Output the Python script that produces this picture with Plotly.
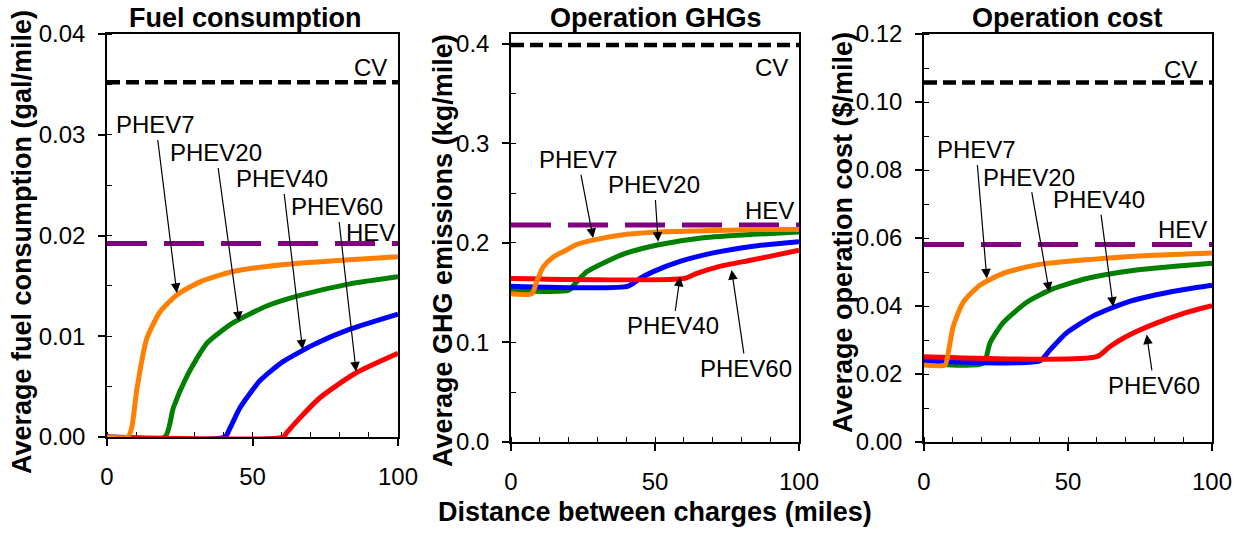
import plotly.graph_objects as go

# ---------------- data ----------------
# Panel 1: fuel consumption (gal/mile)
fuel_cv = 0.0352
fuel_hev = 0.0192
fuel_phev7_x = [0, 7.2, 8.5, 10.2, 13.6, 18.2, 24, 32, 43, 60, 78, 100]
fuel_phev7_y = [0, 0, 0.0009, 0.0046, 0.0097, 0.0124, 0.0141, 0.0154, 0.0164, 0.0171, 0.0175, 0.0179]
fuel_phev20_x = [0, 19.9, 22.8, 27.4, 34.3, 43.4, 54.9, 66.3, 83.5, 100]
fuel_phev20_y = [0, 0, 0.0029, 0.0060, 0.0093, 0.01135, 0.0130, 0.01405, 0.0152, 0.0159]
fuel_phev40_x = [0, 40.5, 42.3, 45.7, 52.6, 60.6, 72, 83.5, 100]
fuel_phev40_y = [0, 0, 0.0009, 0.0029, 0.0056, 0.0075, 0.0093, 0.0107, 0.0122]
fuel_phev60_x = [0, 60.6, 61.7, 66.3, 73.2, 85.2, 100]
fuel_phev60_y = [0, 0, 0.0004, 0.0019, 0.0039, 0.0063, 0.0083]

# Panel 2: operation GHGs (kg/mile)
ghg_cv = 0.399
ghg_hev = 0.218
ghg_phev7_x = [0, 7.2, 8.9, 11.2, 14.7, 19.3, 22.8, 29.8, 40.2, 51.7, 66.8, 84.1, 100]
ghg_phev7_y = [0.149, 0.149, 0.161, 0.176, 0.186, 0.193, 0.1985, 0.2036, 0.2087, 0.2111, 0.2122, 0.2135, 0.2135]
ghg_phev20_x = [0, 20, 22.8, 26.3, 33.2, 40.2, 51.7, 66.8, 84.1, 100]
ghg_phev20_y = [0.1525, 0.1525, 0.161, 0.171, 0.1814, 0.190, 0.1985, 0.2053, 0.2087, 0.211]
ghg_phev40_x = [0, 40.7, 44.8, 49.4, 58.7, 70.2, 84.1, 100]
ghg_phev40_y = [0.1566, 0.1566, 0.1644, 0.1712, 0.1814, 0.190, 0.1968, 0.2012]
ghg_phev60_x = [0, 60.4, 64.5, 72.2, 84.1, 100]
ghg_phev60_y = [0.1644, 0.1644, 0.1695, 0.1763, 0.1831, 0.1927]

# Panel 3: operation cost ($/mile)
cost_cv = 0.1057
cost_hev = 0.0581
cost_phev7_x = [0, 7.3, 8.4, 10.2, 13.6, 19.4, 27.5, 39.1, 56.5, 79.6, 100]
cost_phev7_y = [0.02265, 0.02265, 0.0261, 0.0341, 0.0411, 0.0461, 0.0496, 0.0521, 0.0536, 0.0549, 0.0556]
cost_phev20_x = [0, 20.6, 22.9, 27.5, 35.7, 44.9, 56.5, 73.8, 100]
cost_phev20_y = [0.02315, 0.02315, 0.0291, 0.0351, 0.0411, 0.0451, 0.0481, 0.0506, 0.0526]
cost_phev40_x = [0, 40.3, 43.75, 49.5, 58.8, 70.4, 85.4, 100]
cost_phev40_y = [0.0239, 0.0239, 0.0271, 0.0321, 0.0371, 0.0411, 0.0441, 0.0461]
cost_phev60_x = [0, 60, 64.6, 70.4, 79.6, 91.2, 100]
cost_phev60_y = [0.0251, 0.0251, 0.0281, 0.0311, 0.0346, 0.0381, 0.0401]

x_range = [0, 100]
panel_titles = ["Fuel consumption", "Operation GHGs", "Operation cost"]
y_titles = ["Average fuel consumption (gal/mile)",
            "Average GHG emissions (kg/mile)",
            "Average operation cost ($/mile)"]
x_title = "Distance between charges (miles)"

# ---------------- styling ----------------
FONT = "Liberation Sans, Arial, sans-serif"
COL = {"PHEV7": "#FF7F00", "PHEV20": "#008000", "PHEV40": "#0000FF", "PHEV60": "#FF0000"}
W, H = 1245, 533

fig = go.Figure()

panels = [
    dict(xa="x", ya="y", cv=fuel_cv, hev=fuel_hev,
         series={"PHEV7": (fuel_phev7_x, fuel_phev7_y), "PHEV20": (fuel_phev20_x, fuel_phev20_y),
                 "PHEV40": (fuel_phev40_x, fuel_phev40_y), "PHEV60": (fuel_phev60_x, fuel_phev60_y)}),
    dict(xa="x2", ya="y2", cv=ghg_cv, hev=ghg_hev,
         series={"PHEV7": (ghg_phev7_x, ghg_phev7_y), "PHEV20": (ghg_phev20_x, ghg_phev20_y),
                 "PHEV40": (ghg_phev40_x, ghg_phev40_y), "PHEV60": (ghg_phev60_x, ghg_phev60_y)}),
    dict(xa="x3", ya="y3", cv=cost_cv, hev=cost_hev,
         series={"PHEV7": (cost_phev7_x, cost_phev7_y), "PHEV20": (cost_phev20_x, cost_phev20_y),
                 "PHEV40": (cost_phev40_x, cost_phev40_y), "PHEV60": (cost_phev60_x, cost_phev60_y)}),
]

for p in panels:
    fig.add_trace(go.Scatter(x=x_range, y=[p["cv"], p["cv"]], xaxis=p["xa"], yaxis=p["ya"],
                             mode="lines", line=dict(color="black", width=4.5, dash="13px,6px"),
                             showlegend=False, hoverinfo="skip", cliponaxis=False))
    fig.add_trace(go.Scatter(x=x_range, y=[p["hev"], p["hev"]], xaxis=p["xa"], yaxis=p["ya"],
                             mode="lines", line=dict(color="#800080", width=5, dash="40px,17px"),
                             showlegend=False, hoverinfo="skip", cliponaxis=False))
    for name in ["PHEV20", "PHEV40", "PHEV60", "PHEV7"]:
        xs, ys = p["series"][name]
        fig.add_trace(go.Scatter(x=xs, y=ys, xaxis=p["xa"], yaxis=p["ya"], mode="lines",
                                 line=dict(color=COL[name], width=5, shape="spline", smoothing=0.6),
                                 showlegend=False, hoverinfo="skip", cliponaxis=False))

# axes geometry (pixels)
x_px = [(107, 398), (511, 799), (924, 1212)]
y_px = [(34, 437), (34, 442), (34, 442)]
y_ranges = [[0, 0.04], [0, 0.41], [0, 0.12]]
y_dticks = [0.01, 0.1, 0.02]
y_minor = [0.005, 0.05, 0.01]
y_fmt = [".2f", ".1f", ".2f"]

common = dict(showline=True, linecolor="black", linewidth=1.5, mirror=True,
              ticks="outside", ticklen=7, tickwidth=1.5, tickcolor="black",
              showgrid=False, zeroline=False, layer="below traces", automargin=False,
              tickfont=dict(family=FONT, size=24, color="black"))

for i in range(3):
    sfx = "" if i == 0 else str(i + 1)
    x0, x1 = x_px[i]
    yt, yb = y_px[i]
    fig.layout["xaxis" + sfx] = dict(
        common, domain=[x0 / W, x1 / W], range=x_range, dtick=50, tick0=0,
        anchor="y" + sfx, ticklabelstandoff=10,
        minor=dict(dtick=10, ticks="inside", ticklen=5, tickwidth=1, tickcolor="black"))
    fig.layout["yaxis" + sfx] = dict(
        common, domain=[1 - yb / H, 1 - yt / H], range=y_ranges[i], dtick=y_dticks[i], tick0=0,
        tickformat=y_fmt[i], anchor="x" + sfx, ticklabelstandoff=8,
        minor=dict(dtick=y_minor[i], ticks="inside", ticklen=5, tickwidth=1, tickcolor="black"))

annotations = []
# Panel titles, y titles, x title (paper positions in pixels)
title_pos = [(245, 18), (656, 18), (1067, 18)]
ytitle_pos = [(22, 242), (443, 250), (843, 233)]
for i in range(3):
    annotations.append(dict(text=panel_titles[i], x=title_pos[i][0] / W, y=1 - title_pos[i][1] / H,
                            xref="paper", yref="paper", showarrow=False, xanchor="center", yanchor="middle",
                            font=dict(family=FONT, size=27, color="black", weight="bold")))
    annotations.append(dict(text=y_titles[i], x=ytitle_pos[i][0] / W, y=1 - ytitle_pos[i][1] / H,
                            xref="paper", yref="paper", showarrow=False, textangle=-90,
                            xanchor="center", yanchor="middle",
                            font=dict(family=FONT, size=27, color="black", weight="bold")))
annotations.append(dict(text=x_title, x=655 / W, y=1 - 512 / H, xref="paper", yref="paper",
                        showarrow=False, xanchor="center", yanchor="middle",
                        font=dict(family=FONT, size=27, color="black", weight="bold")))

# labels: (text, text_x, text_y, head_x, head_y) in data coords; head None = no arrow
labels = [
    [("PHEV7", 16.8, 0.03097, 24.0, 0.0143), ("PHEV20", 37.5, 0.02819, 45.4, 0.0115),
     ("PHEV40", 60.3, 0.02561, 67.2, 0.0087), ("PHEV60", 79.2, 0.02283, 85.6, 0.0065),
     ("HEV", 90.7, 0.02025, None, None), ("CV", 90.4, 0.03663, None, None)],
    [("PHEV7", 23.3, 0.2834, 28.5, 0.205), ("PHEV20", 49.8, 0.2583, 51.1, 0.2013),
     ("PHEV40", 56.3, 0.1166, 58.7, 0.1661), ("PHEV60", 81.6, 0.074, 76.6, 0.1729),
     ("HEV", 89.9, 0.2322, None, None), ("CV", 90.3, 0.3759, None, None)],
    [("PHEV7", 18.1, 0.0859, 21.8, 0.0481), ("PHEV20", 36.5, 0.0779, 43.5, 0.0442),
     ("PHEV40", 60.8, 0.0712, 65.7, 0.0398), ("PHEV60", 79.9, 0.01665, 77.3, 0.0316),
     ("HEV", 89.9, 0.0624, None, None), ("CV", 88.9, 0.1095, None, None)],
]
for i, p in enumerate(panels):
    for (txt, tx, ty, hx, hy) in labels[i]:
        f = dict(family=FONT, size=24, color="black")
        if hx is None:
            annotations.append(dict(text=txt, x=tx, y=ty, xref=p["xa"], yref=p["ya"],
                                    showarrow=False, xanchor="center", yanchor="middle", font=f))
        else:
            annotations.append(dict(text=txt, x=hx, y=hy, xref=p["xa"], yref=p["ya"],
                                    ax=tx, ay=ty, axref=p["xa"], ayref=p["ya"],
                                    showarrow=True, arrowhead=2, arrowsize=1.6, arrowwidth=1.2,
                                    arrowcolor="black", font=f))

fig.update_layout(template="none", width=W, height=H,
                  margin=dict(l=0, r=0, t=0, b=0, pad=0, autoexpand=False),
                  paper_bgcolor="white", plot_bgcolor="white",
                  annotations=annotations, showlegend=False,
                  font=dict(family=FONT, color="black"))

fig.write_html("out.html", config={"displayModeBar": False})
